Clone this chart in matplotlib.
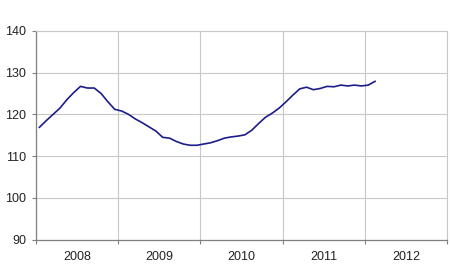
import numpy as np
import matplotlib.pyplot as plt

plt.rcParams['font.family'] = ['Liberation Sans', 'DejaVu Sans']

years = [2008, 2009, 2010, 2011, 2012]
# monthly values, Jan 2008 .. Feb 2012
v2008 = [116.9, 118.5, 120.0, 121.5, 123.5, 125.2, 126.7, 126.3, 126.3, 125.0, 123.0, 121.2]
v2009 = [120.8, 120.0, 118.9, 118.0, 117.0, 116.0, 114.5, 114.3, 113.5, 112.9, 112.6, 112.6]
v2010 = [112.9, 113.2, 113.7, 114.3, 114.6, 114.8, 115.1, 116.2, 117.8, 119.3, 120.3, 121.5]
v2011 = [123.0, 124.6, 126.1, 126.5, 125.9, 126.2, 126.7, 126.6, 127.0, 126.8, 127.0, 126.8]
v2012 = [127.0, 127.9]

values = np.array(v2008 + v2009 + v2010 + v2011 + v2012)
months = np.arange(len(values)) + 0.5

fig = plt.figure(figsize=(4.5, 2.8), dpi=100)
ax = fig.add_axes([0.08, 0.144, 0.9133, 0.746])

ax.plot(months, values, color="#1c1c8a", lw=1.2, zorder=3)

ax.set_xlim(0, 12 * len(years))
ax.set_ylim(90, 140)
ax.set_yticks(np.arange(90, 141, 10))
ax.set_xticks(np.arange(0, 12 * len(years) + 1, 12))
ax.set_xticklabels([])
ax.set_xticks(np.arange(6, 12 * len(years), 12), minor=True)
ax.set_xticklabels([str(y) for y in years], minor=True)
ax.tick_params(axis="x", which="minor", length=0, pad=8, labelsize=9, colors="#222222")
ax.tick_params(axis="x", which="major", length=3, color="#808080")
ax.tick_params(axis="y", length=3, color="#808080", labelsize=9, labelcolor="#222222", pad=4)

ax.grid(True, which="major", color="#c8c8c8", lw=0.8)
for s in ["top", "right"]:
    ax.spines[s].set_color("#c8c8c8")
    ax.spines[s].set_linewidth(0.8)
for s in ["left", "bottom"]:
    ax.spines[s].set_color("#808080")
    ax.spines[s].set_linewidth(0.9)

fig.savefig("out.png", dpi=100)
